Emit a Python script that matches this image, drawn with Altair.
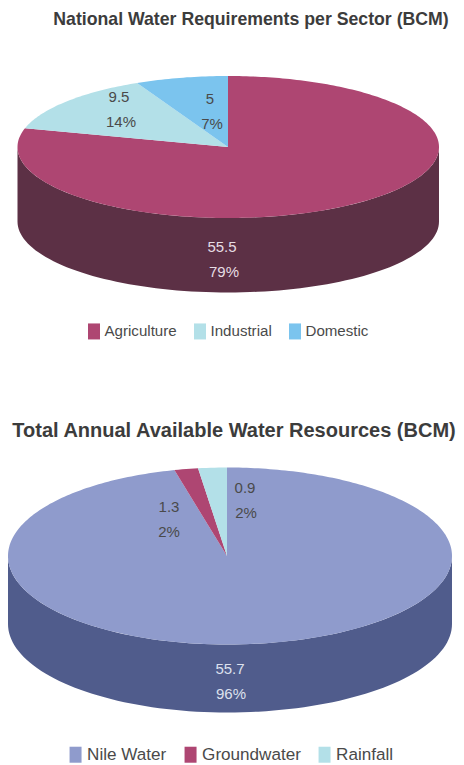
import math
import altair as alt

# ---- values ----
TITLE_A = "National Water Requirements per Sector (BCM)"
CATS_A = ["Agriculture", "Industrial", "Domestic"]
VALUES_A = ["55.5", "9.5", "5"]
PCT_A = ["79%", "14%", "7%"]
COLORS_A = ["#AE4672", "#B3E0E8", "#7BC4EE"]
SWEEP_A = [285.4, 49.0, 25.6]   # degrees of each slice as drawn

TITLE_B = "Total Annual Available Water Resources (BCM)"
CATS_B = ["Nile Water", "Groundwater", "Rainfall"]
VALUES_B = ["55.7", "1.3", "0.9"]
PCT_B = ["96%", "2%", "2%"]
COLORS_B = ["#8F9BCC", "#AE4672", "#B3E0E8"]
SWEEP_B = [346.1, 6.3, 7.6]

FONT = "Liberation Sans"
DARK = "#4a4a4a"
PROJ = dict(type="identity", scale=1, translate=[0, 0])
OX, OY = 8, 8   # page margin


def ellipse_pt(g, deg):
    """deg is clockwise from 12 o'clock; returns plot coordinates."""
    s, c = math.sin(math.radians(deg)), math.cos(math.radians(deg))
    a = g["ar"] if s >= 0 else g["al"]
    return [g["cx"] + a * s - OX, g["cy"] - g["b"] * c - OY]


def feature(coords, **props):
    return {"type": "Feature", "geometry": {"type": "Polygon", "coordinates": [coords]}, **props}


def pie(title, title_x, title_y, title_size, cats, values, pct, colors, sweeps, g, labels,
        legend_x, legend_y, legend_size, legend_offset):
    tops, start = [], 0.0
    for cat, sw in zip(cats, sweeps):
        n = max(4, int(sw))
        pts = [ellipse_pt(g, start + sw * i / n) for i in range(n + 1)]
        ctr = [g["cx"] - OX, g["cy"] - OY]
        tops.append(feature([ctr] + pts + [ctr], category=cat))
        start += sw
    front = [ellipse_pt(g, d) for d in range(90, 271, 2)]
    back = [[p[0], p[1] + g["depth"]] for p in reversed(front)]
    side = [feature(front + back + [front[0]], category=cats[0])]

    side_layer = alt.Chart(alt.Data(values=side)).mark_geoshape(
        stroke=None, color=g["side"]).project(**PROJ)
    top_layer = alt.Chart(alt.Data(values=tops)).mark_geoshape(stroke=None).encode(
        color=alt.Color("category:N", scale=alt.Scale(domain=cats, range=colors), legend=alt.Legend(
            title=None, orient="none", legendX=legend_x - OX, legendY=legend_y - OY, direction="horizontal",
            columns=3, symbolType="M-0.75,-1H0.75V1H-0.75Z", symbolSize=256, symbolStrokeWidth=0,
            labelFont=FONT, labelFontSize=legend_size, labelColor=DARK, columnPadding=15,
            labelOffset=legend_offset, symbolOpacity=1, labelLimit=200))).project(**PROJ)

    rows = []
    for cat, v, p, (x1, x2, y, col) in zip(cats, values, pct, labels):
        rows.append({"label": v, "lon": x1 - OX, "lat": y - OY, "col": col})
        rows.append({"label": p, "lon": x2 - OX, "lat": y + 24.5 - OY, "col": col})
    text_layer = alt.Chart(alt.Data(values=rows)).mark_text(
        font=FONT, fontSize=15, align="center", baseline="middle").encode(
        longitude="lon:Q", latitude="lat:Q", text="label:N",
        color=alt.Color("col:N", scale=None)).project(**PROJ)
    title_layer = alt.Chart(alt.Data(values=[{"t": title, "lon": title_x - OX, "lat": title_y - OY}])).mark_text(
        font=FONT, fontSize=title_size, fontWeight="bold", color="#3c3c3c", align="center", baseline="middle").encode(
        longitude="lon:Q", latitude="lat:Q", text="t:N").project(**PROJ)
    return [side_layer, top_layer, text_layer, title_layer]


GEOM_A = {"cx": 228, "cy": 147, "al": 210.5, "ar": 211, "b": 71, "depth": 74.5, "side": "#5C3045"}
GEOM_B = {"cx": 227, "cy": 556, "al": 219, "ar": 225, "b": 88.5, "depth": 68, "side": "#505C8C"}
LABELS_A = [(222, 224, 247, "#E6DDE4"), (119, 121, 97, DARK), (210, 212, 99, DARK)]
LABELS_B = [(230, 231, 669, "#DDE1EE"), (169, 169, 507, DARK), (245, 246, 488, DARK)]

layers = (pie(TITLE_A, 251, 20, 17.7, CATS_A, VALUES_A, PCT_A, COLORS_A, SWEEP_A, GEOM_A, LABELS_A, 86, 323, 15.1, 2.5)
          + pie(TITLE_B, 234, 431, 20, CATS_B, VALUES_B, PCT_B, COLORS_B, SWEEP_B, GEOM_B, LABELS_B, 67, 746, 17.1, 3))

chart = alt.layer(*layers).resolve_scale(color="independent").properties(
    width=448, height=755, padding=0, autosize="none").configure_view(stroke=None)
chart.save("out.html", embed_options={"renderer": "svg", "actions": False})
